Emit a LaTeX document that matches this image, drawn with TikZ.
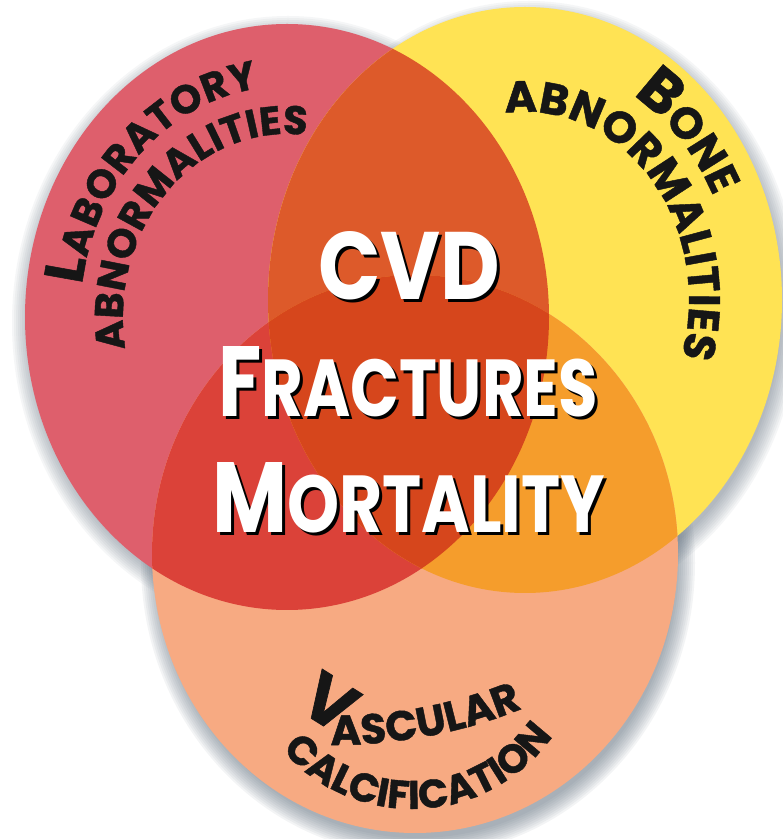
\documentclass[tikz,border=0pt]{standalone}
\usepackage{fontspec}
\setmainfont{Poppins}
\newfontfamily\heavy{Poppins}[BoldFeatures={FakeBold=1}]
\usepackage{graphicx}
\usetikzlibrary{decorations.text,calc}
\definecolor{cpink}{RGB}{222,95,108}
\definecolor{cyellow}{RGB}{255,227,84}
\definecolor{csalmon}{RGB}{247,170,130}
\definecolor{cpy}{RGB}{221,90,42}
\definecolor{cps}{RGB}{219,66,57}
\definecolor{cys}{RGB}{245,157,44}
\definecolor{call}{RGB}{214,70,28}
\definecolor{labc}{RGB}{22,22,22}
\definecolor{shadc}{RGB}{95,110,125}
\newcommand\mybigcap{\fontsize{100}{100}\selectfont}
\newcommand\mysmcap{\fontsize{81}{81}\selectfont}
\newcommand\fs[1]{\heavy\bfseries\fontsize{#1}{#1}\selectfont}
\tikzset{
  lab/.style={decorate, decoration={text along path, text align=fit to path, text color=labc, text={#1}}},
  ctext/.style={anchor=base west, inner sep=0pt, outer sep=0pt, font=\bfseries},
}
\begin{document}
\begin{tikzpicture}[x=1pt,y=1pt]
\useasboundingbox (0,0) rectangle (783,839);
\fill[white] (0,0) rectangle (783,839);
\coordinate (pc) at (287,522);
\coordinate (yc) at (525,539);
\coordinate (sc) at (415,285);
% soft shadows
\foreach \i in {0,...,9} {
  \fill[shadc, opacity=0.06] ($(pc)+(1,-6)$) ellipse[x radius={(258+2*\i)*1pt}, y radius={(289+2*\i)*1pt}];
  \fill[shadc, opacity=0.06] ($(yc)+(4,-8)$) ellipse[x radius={(253+2*\i)*1pt}, y radius={(289+2*\i)*1pt}];
  \fill[shadc, opacity=0.07] ($(sc)+(3,-9)$) ellipse[x radius={(259+2*\i)*1pt}, y radius={(275+2*\i)*1pt}];
}
% circles
\fill[cpink] (pc) ellipse[x radius=262pt, y radius=293pt];
\fill[cyellow] (yc) ellipse[x radius=257pt, y radius=293pt];
\fill[csalmon] (sc) ellipse[x radius=263pt, y radius=279pt];
\begin{scope}
  \clip (pc) ellipse[x radius=262pt, y radius=293pt];
  \fill[cpy] (yc) ellipse[x radius=257pt, y radius=293pt];
  \fill[cps] (sc) ellipse[x radius=263pt, y radius=279pt];
\end{scope}
\begin{scope}
  \clip (yc) ellipse[x radius=257pt, y radius=293pt];
  \fill[cys] (sc) ellipse[x radius=263pt, y radius=279pt];
\end{scope}
\begin{scope}
  \clip (pc) ellipse[x radius=262pt, y radius=293pt];
  \clip (yc) ellipse[x radius=257pt, y radius=293pt];
  \fill[call] (sc) ellipse[x radius=263pt, y radius=279pt];
\end{scope}
% curved labels
\path[lab={|\fs{55}|L|\fs{40}|ABORATORY}]
  ($(pc)+({207*cos(172)},{231*sin(172)})$) arc[start angle=172, end angle=98, x radius=207pt, y radius=231pt];
\path[lab={|\fs{40}|ABNORMALITIES}]
  ($(pc)+({164*cos(190)},{183*sin(190)})$) arc[start angle=190, end angle=83, x radius=164pt, y radius=183pt];
\path[lab={|\fs{60}|B|\fs{44}|ONE}]
  ($(yc)+({209*cos(59)},{239*sin(59)})$) arc[start angle=59, end angle=28, x radius=209pt, y radius=239pt];
\path[lab={|\fs{44}|ABNORMALITIES}]
  ($(yc)+({164*cos(97)},{188*sin(97)})$) arc[start angle=97, end angle=-14, x radius=164pt, y radius=188pt];
\coordinate (vc) at (335,594);
\coordinate (cc) at (412,202);
\node[font=\fs{68}, text=labc, rotate=-32, inner sep=0pt] (vbig) at (330,137) {V};
\path[lab={|\fs{42}|ASCULAR}]
  ($(vc)+(269.5:500)$) arc[start angle=269.5, end angle=292, radius=500pt];
\path[lab={|\fs{40}|CALCIFICATION}]
  ($(cc)+(221:172)$) arc[start angle=221, end angle=321, radius=172pt];
% centre text with shadow
\node[ctext, text=black] (cvds) at (321,536) {\resizebox{182pt}{68pt}{\mybigcap CVD}};
\node[ctext, text=white] (cvd) at (318,539) {\resizebox{182pt}{68pt}{\mybigcap CVD}};
\node[ctext, text=black] (fracs) at (221,419) {\resizebox{380pt}{70pt}{\mybigcap F\mysmcap RACTURES}};
\node[ctext, text=white] (frac) at (218,422) {\resizebox{380pt}{70pt}{\mybigcap F\mysmcap RACTURES}};
\node[ctext, text=black] (morts) at (215,303) {\resizebox{393pt}{70pt}{\mybigcap M\mysmcap ORTALITY}};
\node[ctext, text=white] (mort) at (212,306) {\resizebox{393pt}{70pt}{\mybigcap M\mysmcap ORTALITY}};
\end{tikzpicture}
\end{document}
